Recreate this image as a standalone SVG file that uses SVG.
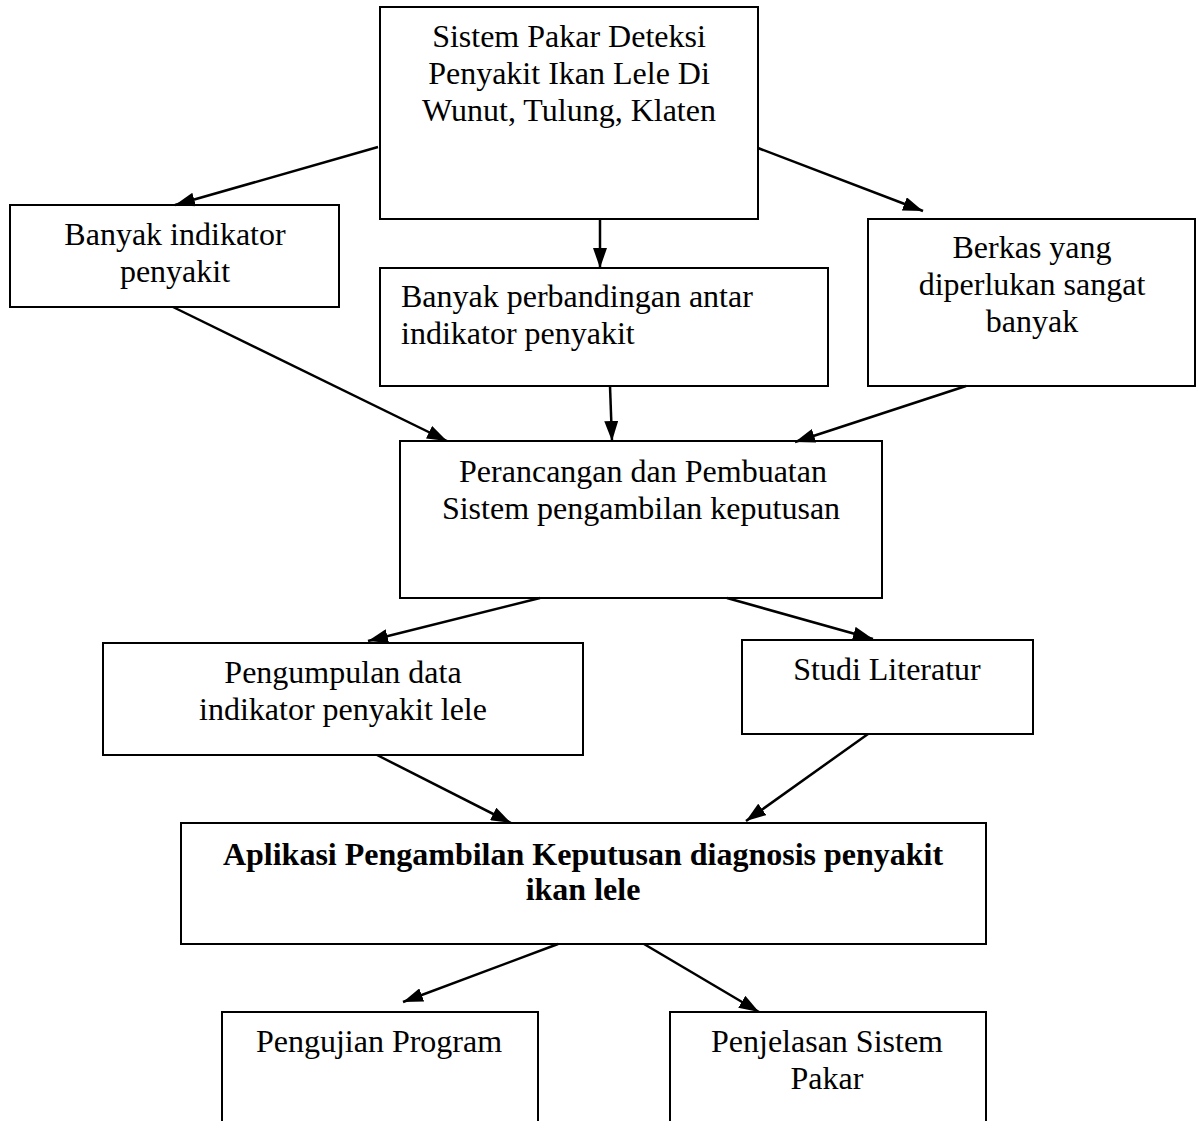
<svg xmlns="http://www.w3.org/2000/svg" width="1200" height="1121" viewBox="0 0 1200 1121">
<style>
.box{fill:#fff;stroke:#000;stroke-width:2}
.t{font-family:"Liberation Serif","Times New Roman",serif;font-size:32px;fill:#000;text-anchor:middle}
.b{font-weight:bold}
.l{text-anchor:start}
.c{stroke:#000;stroke-width:2.5;fill:none;marker-end:url(#ah)}
</style>
<defs>
<marker id="ah" markerUnits="userSpaceOnUse" markerWidth="20" markerHeight="14" refX="20" refY="7" orient="auto">
<path d="M0,0 L20,7 L0,14 z" fill="#000"/>
</marker>
</defs>
<rect width="1200" height="1121" fill="#fff"/>
<g id="n-top">
<rect class="box" x="380" y="7" width="378" height="212"/>
<text class="t" x="569" y="47">Sistem Pakar Deteksi</text>
<text class="t" x="569" y="84">Penyakit Ikan Lele Di</text>
<text class="t" x="569" y="121">Wunut, Tulung, Klaten</text>
</g>
<g id="n-left">
<rect class="box" x="10" y="205" width="329" height="102"/>
<text class="t" x="175" y="245">Banyak indikator</text>
<text class="t" x="175" y="282">penyakit</text>
</g>
<g id="n-mid">
<rect class="box" x="380" y="268" width="448" height="118"/>
<text class="t l" x="401" y="307">Banyak perbandingan antar</text>
<text class="t l" x="401" y="344">indikator penyakit</text>
</g>
<g id="n-right">
<rect class="box" x="868" y="219" width="327" height="167"/>
<text class="t" x="1032" y="258">Berkas yang</text>
<text class="t" x="1032" y="295">diperlukan sangat</text>
<text class="t" x="1032" y="332">banyak</text>
</g>
<g id="n-perancangan">
<rect class="box" x="400" y="441" width="482" height="157"/>
<text class="t" x="643" y="482">Perancangan dan Pembuatan</text>
<text class="t" x="641" y="519">Sistem pengambilan keputusan</text>
</g>
<g id="n-pengumpulan">
<rect class="box" x="103" y="643" width="480" height="112"/>
<text class="t" x="343" y="683">Pengumpulan data</text>
<text class="t" x="343" y="720">indikator penyakit lele</text>
</g>
<g id="n-studi">
<rect class="box" x="742" y="640" width="291" height="94"/>
<text class="t" x="887" y="680">Studi Literatur</text>
</g>
<g id="n-aplikasi">
<rect class="box" x="181" y="823" width="805" height="121"/>
<text class="t b" x="583" y="865">Aplikasi Pengambilan Keputusan diagnosis penyakit</text>
<text class="t b" x="583" y="900">ikan lele</text>
</g>
<g id="n-pengujian">
<rect class="box" x="222" y="1012" width="316" height="120"/>
<text class="t" x="379" y="1052">Pengujian Program</text>
</g>
<g id="n-penjelasan">
<rect class="box" x="670" y="1012" width="316" height="120"/>
<text class="t" x="827" y="1052">Penjelasan Sistem</text>
<text class="t" x="827" y="1089">Pakar</text>
</g>
<g id="connectors">
<line class="c" x1="378" y1="147" x2="175" y2="205"/>
<line class="c" x1="600" y1="219" x2="600" y2="268"/>
<line class="c" x1="758" y1="148" x2="923" y2="211"/>
<line class="c" x1="173" y1="307" x2="447" y2="441"/>
<line class="c" x1="610" y1="386" x2="612" y2="441"/>
<line class="c" x1="966" y1="386" x2="795" y2="442"/>
<line class="c" x1="540" y1="598" x2="368" y2="641"/>
<line class="c" x1="727" y1="598" x2="873" y2="639"/>
<line class="c" x1="377" y1="755" x2="511" y2="823"/>
<line class="c" x1="868" y1="734" x2="746" y2="821"/>
<line class="c" x1="558" y1="944" x2="403" y2="1002"/>
<line class="c" x1="644" y1="944" x2="759" y2="1012"/>
</g>
</svg>
